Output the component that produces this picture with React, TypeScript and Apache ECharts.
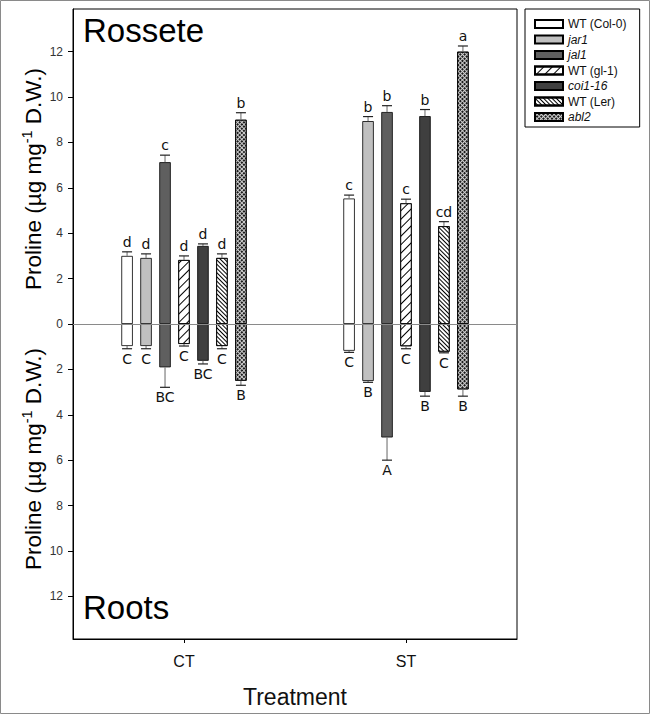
import React, { useEffect, useRef } from "react";
import * as echarts from "echarts";

const categories = ["CT", "ST"];
const genotypes = ["WT (Col-0)", "jar1", "jal1", "WT (gl-1)", "coi1-16", "WT (Ler)", "abl2"];
const italicGenotypes = ["jar1", "jal1", "coi1-16", "abl2"];

// Rosette (upwards)
const rosetteCT = [3.0, 2.91, 7.13, 2.82, 3.44, 2.91, 9.0];
const rosetteCTErr = [0.18, 0.18, 0.31, 0.18, 0.09, 0.18, 0.31];
const rosetteST = [5.53, 8.94, 9.34, 5.32, 9.16, 4.31, 12.0];
const rosetteSTErr = [0.15, 0.2, 0.28, 0.18, 0.29, 0.2, 0.25];
const rosetteCTLetters = ["d", "d", "c", "d", "d", "d", "b"];
const rosetteSTLetters = ["c", "b", "b", "c", "b", "cd", "a"];

// Roots (downwards)
const rootsCT = [0.97, 0.97, 1.91, 0.88, 1.62, 0.97, 2.5];
const rootsCTErr = [0.12, 0.12, 0.88, 0.09, 0.14, 0.12, 0.2];
const rootsST = [1.18, 2.51, 5.0, 0.98, 2.99, 1.22, 2.88];
const rootsSTErr = [0.07, 0.06, 1.0, 0.11, 0.19, 0.05, 0.3];
const rootsCTLetters = ["C", "C", "BC", "C", "BC", "C", "B"];
const rootsSTLetters = ["C", "B", "A", "C", "B", "C", "B"];

const yTicks = [-12, -10, -8, -6, -4, -2, 0, 2, 4, 6, 8, 10, 12];

const BAR_W = 11.5;
const BAR_GAP = 0.65;
const PITCH = BAR_W * (1 + BAR_GAP);
const ARIAL = "Liberation Sans, Arial, sans-serif";

const styles: any[] = [
  { color: "#ffffff" },
  { color: "#c0c0c0" },
  { color: "#5f5f5f" },
  {
    color: "#ffffff",
    decal: { symbol: "rect", color: "#000", dashArrayX: [1, 0], dashArrayY: [1, 4.5], rotation: -Math.PI / 4 },
  },
  { color: "#3f3f3f" },
  {
    color: "#ffffff",
    decal: { symbol: "rect", color: "#000", dashArrayX: [1, 0], dashArrayY: [1, 2], rotation: Math.PI / 4 },
  },
  {
    color: "#d0d0d0",
    decal: { symbol: "rect", color: "#1a1a1a", dashArrayX: [2, 1], dashArrayY: [2, 1], rotation: Math.PI / 4 },
  },
];

type Rec = { c: number; g: number; mean: number; err: number; letter: string; dir: number };

function buildRecords(): Rec[] {
  const recs: Rec[] = [];
  const ros = [rosetteCT, rosetteST];
  const rosE = [rosetteCTErr, rosetteSTErr];
  const rosL = [rosetteCTLetters, rosetteSTLetters];
  const rt = [rootsCT, rootsST];
  const rtE = [rootsCTErr, rootsSTErr];
  const rtL = [rootsCTLetters, rootsSTLetters];
  for (let c = 0; c < categories.length; c++) {
    for (let g = 0; g < genotypes.length; g++) {
      recs.push({ c, g, mean: ros[c][g], err: rosE[c][g], letter: rosL[c][g], dir: 1 });
      recs.push({ c, g, mean: rt[c][g], err: rtE[c][g], letter: rtL[c][g], dir: -1 });
    }
  }
  return recs;
}

const yLabelStyle = (x: number, y: number) => ({
  type: "text",
  x,
  y,
  rotation: Math.PI / 2,
  style: {
    text: "{a|Proline (µg mg}{s|-1}{a| D.W.)}",
    align: "center",
    verticalAlign: "middle",
    rich: {
      a: { fontFamily: ARIAL, fontSize: 22.5, lineHeight: 27, fill: "#000" },
      s: { fontFamily: ARIAL, fontSize: 14.5, verticalAlign: "top", lineHeight: 14, fill: "#000" },
    },
  },
});

export default function App() {
  const ref = useRef<HTMLDivElement>(null);
  useEffect(() => {
    if (!ref.current) return;
    const chart = echarts.init(ref.current, null, { renderer: "svg" });
    const records = buildRecords();

    const barSeries: any[] = [];
    genotypes.forEach((name, g) => {
      const itemStyle = { ...styles[g], borderColor: "#000", borderWidth: 0.8 };
      barSeries.push({
        type: "bar",
        name,
        stack: "s" + g,
        barWidth: BAR_W,
        barGap: BAR_GAP * 100 + "%",
        itemStyle,
        data: [rosetteCT[g], rosetteST[g]],
        z: 2,
        ...(g === 0
          ? {
              markLine: {
                silent: true,
                symbol: "none",
                label: { show: false },
                lineStyle: { color: "#8a8a8a", type: "solid", width: 1 },
                data: [{ yAxis: 0 }],
              },
            }
          : {}),
      });
      barSeries.push({
        type: "bar",
        name,
        stack: "s" + g,
        barWidth: BAR_W,
        barGap: BAR_GAP * 100 + "%",
        itemStyle,
        data: [-rootsCT[g], -rootsST[g]],
        z: 2,
      });
    });

    const errSeries = {
      type: "custom",
      name: "errors",
      z: 5,
      encode: { x: 0, y: 1 },
      data: records.map((r) => [r.c, r.dir * (r.mean + r.err)]),
      renderItem: (params: any, api: any) => {
        const r = records[params.dataIndex];
        const base = api.coord([r.c, r.dir * r.mean]);
        const tip = api.coord([r.c, r.dir * (r.mean + r.err)]);
        const x = base[0] + (r.g - 3) * PITCH;
        return {
          type: "group",
          children: [
            {
              type: "line",
              shape: { x1: x, y1: base[1], x2: x, y2: tip[1] },
              style: { stroke: "#666", lineWidth: 1 },
            },
            {
              type: "line",
              shape: { x1: x - 5, y1: tip[1], x2: x + 5, y2: tip[1] },
              style: { stroke: "#222", lineWidth: 1.2 },
            },
            {
              type: "text",
              x,
              y: tip[1] - r.dir * 3,
              style: {
                text: r.letter,
                align: "center",
                verticalAlign: r.dir > 0 ? "bottom" : "top",
                font: "14px 'DejaVu Sans', sans-serif",
                fill: "#111",
              },
            },
          ],
        };
      },
    };

    chart.setOption({
      animation: false,
      grid: {
        left: 73,
        top: 9,
        right: 133,
        bottom: 75,
        show: true,
        borderColor: "#000",
        borderWidth: 1,
        backgroundColor: "transparent",
      },
      legend: {
        left: 525,
        top: 9,
        orient: "vertical",
        icon: "rect",
        itemWidth: 28,
        itemHeight: 8,
        itemGap: 3.5,
        padding: [9, 13, 4, 9],
        borderColor: "#000",
        borderWidth: 1,
        selectedMode: false,
        textStyle: { fontFamily: ARIAL, fontSize: 12, color: "#111" },
        data: genotypes.map((n) => ({
          name: n,
          textStyle: italicGenotypes.includes(n) ? { fontStyle: "italic" } : {},
        })),
      },
      xAxis: {
        type: "category",
        data: categories,
        axisLine: { onZero: false, lineStyle: { color: "#000", width: 1 } },
        axisTick: { show: true, alignWithLabel: true, length: 4, lineStyle: { color: "#000" } },
        axisLabel: { fontFamily: ARIAL, fontSize: 16, color: "#111", margin: 14 },
        name: "Treatment",
        nameLocation: "middle",
        nameGap: 46,
        nameTextStyle: { fontFamily: ARIAL, fontSize: 23, color: "#111" },
      },
      yAxis: {
        type: "value",
        min: -13.88,
        max: 13.88,
        splitLine: { show: false },
        axisLine: { show: true, lineStyle: { color: "#000" } },
        axisTick: { show: true, length: 5, customValues: yTicks, lineStyle: { color: "#000" } },
        axisLabel: {
          customValues: yTicks,
          fontFamily: ARIAL,
          fontSize: 12,
          color: "#333",
          margin: 10,
          formatter: (v: number) => String(Math.abs(v)),
        },
      },
      graphic: [
        {
          type: "rect",
          shape: { x: 0.5, y: 0.5, width: 649, height: 713 },
          style: { fill: "none", stroke: "#8a8a8a", lineWidth: 1 },
          silent: true,
        },
        {
          type: "text",
          x: 83,
          y: 30,
          style: { text: "Rossete", font: "33px 'Liberation Sans', Arial, sans-serif", fill: "#000", verticalAlign: "middle" },
        },
        {
          type: "text",
          x: 83,
          y: 607,
          style: { text: "Roots", font: "33px 'Liberation Sans', Arial, sans-serif", fill: "#000", verticalAlign: "middle" },
        },
        yLabelStyle(33, 179),
        yLabelStyle(33, 459),
      ],
      series: [...barSeries, errSeries],
    });
    return () => chart.dispose();
  }, []);
  return <div ref={ref} style={{ position: "absolute", left: 0, top: 0, width: 650, height: 714 }} />;
}
